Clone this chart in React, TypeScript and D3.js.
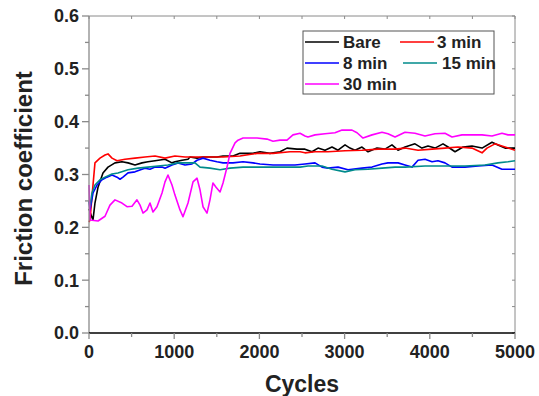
import React from "react";
import * as d3 from "d3";

const xTicks = [0, 1000, 2000, 3000, 4000, 5000];
const yTicks = [0.0, 0.1, 0.2, 0.3, 0.4, 0.5, 0.6];

const bare: [number, number][] = [[0,0.235],[20,0.225],[47,0.214],[70,0.246],[106,0.276],[164,0.303],[223,0.314],[305,0.322],[387,0.324],[458,0.322],[540,0.318],[622,0.322],[692,0.324],[775,0.326],[892,0.329],[974,0.322],[1009,0.324],[1092,0.327],[1162,0.329],[1185,0.333],[1268,0.331],[1338,0.333],[1420,0.333],[1502,0.333],[1573,0.335],[1690,0.335],[1772,0.340],[1854,0.340],[1925,0.340],[2007,0.343],[2124,0.340],[2242,0.343],[2324,0.350],[2441,0.348],[2535,0.348],[2617,0.343],[2688,0.350],[2770,0.346],[2852,0.352],[2923,0.346],[3005,0.356],[3063,0.350],[3122,0.346],[3204,0.352],[3275,0.343],[3380,0.350],[3474,0.348],[3556,0.356],[3627,0.346],[3709,0.352],[3826,0.358],[3908,0.350],[3979,0.354],[4061,0.350],[4155,0.358],[4214,0.352],[4296,0.343],[4390,0.352],[4495,0.354],[4613,0.350],[4730,0.361],[4800,0.356],[4883,0.350],[5000,0.350]];

const min3: [number, number][] = [[0,0.21],[12,0.214],[35,0.258],[70,0.322],[129,0.331],[188,0.337],[223,0.339],[270,0.331],[329,0.326],[423,0.329],[540,0.331],[657,0.333],[775,0.335],[892,0.331],[1009,0.335],[1127,0.333],[1244,0.333],[1303,0.333],[1420,0.333],[1573,0.333],[1772,0.335],[1972,0.340],[2160,0.340],[2359,0.343],[2477,0.343],[2535,0.341],[2653,0.343],[2805,0.343],[3005,0.345],[3204,0.346],[3392,0.348],[3592,0.348],[3709,0.350],[3862,0.346],[4026,0.348],[4178,0.350],[4331,0.352],[4495,0.350],[4613,0.341],[4671,0.350],[4765,0.358],[4883,0.352],[5000,0.346]];

const min8: [number, number][] = [[0,0.25],[12,0.233],[47,0.265],[94,0.280],[153,0.290],[211,0.295],[270,0.299],[329,0.295],[364,0.291],[399,0.295],[458,0.303],[540,0.305],[622,0.310],[657,0.312],[716,0.310],[775,0.314],[857,0.314],[892,0.312],[974,0.318],[1045,0.322],[1127,0.318],[1209,0.320],[1268,0.327],[1338,0.331],[1420,0.327],[1502,0.324],[1573,0.322],[1690,0.322],[1808,0.324],[1925,0.322],[2007,0.320],[2160,0.318],[2324,0.318],[2418,0.318],[2535,0.320],[2653,0.322],[2735,0.314],[2805,0.312],[2923,0.314],[3040,0.309],[3204,0.312],[3322,0.314],[3439,0.320],[3509,0.322],[3627,0.322],[3709,0.318],[3791,0.314],[3862,0.327],[3944,0.329],[4026,0.324],[4096,0.326],[4178,0.322],[4261,0.314],[4413,0.314],[4566,0.316],[4730,0.318],[4847,0.310],[5000,0.310]];

const min15: [number, number][] = [[0,0.25],[12,0.239],[35,0.265],[70,0.280],[129,0.290],[188,0.295],[270,0.301],[340,0.303],[458,0.309],[575,0.312],[692,0.314],[810,0.316],[927,0.318],[1045,0.322],[1162,0.322],[1244,0.322],[1303,0.314],[1420,0.312],[1538,0.309],[1655,0.312],[1808,0.314],[1972,0.314],[2124,0.314],[2277,0.314],[2477,0.314],[2570,0.316],[2735,0.316],[2852,0.310],[3005,0.305],[3122,0.309],[3275,0.310],[3439,0.312],[3592,0.314],[3709,0.314],[3944,0.316],[4178,0.316],[4413,0.316],[4648,0.318],[4800,0.322],[4918,0.324],[5000,0.326]];

const min30: [number, number][] = [[0,0.28],[8,0.24],[12,0.214],[106,0.212],[188,0.221],[246,0.242],[305,0.252],[387,0.246],[446,0.239],[505,0.240],[563,0.252],[599,0.242],[634,0.227],[681,0.233],[716,0.246],[751,0.229],[798,0.239],[857,0.265],[892,0.286],[927,0.299],[974,0.280],[1009,0.261],[1068,0.233],[1103,0.220],[1162,0.246],[1221,0.286],[1268,0.293],[1303,0.271],[1338,0.239],[1385,0.227],[1420,0.252],[1455,0.284],[1491,0.276],[1538,0.267],[1573,0.284],[1620,0.314],[1655,0.340],[1714,0.360],[1749,0.365],[1808,0.369],[1972,0.369],[2089,0.367],[2160,0.363],[2242,0.365],[2324,0.365],[2394,0.375],[2477,0.378],[2535,0.373],[2570,0.371],[2653,0.375],[2770,0.377],[2887,0.379],[2970,0.384],[3087,0.384],[3146,0.379],[3216,0.369],[3322,0.375],[3439,0.380],[3509,0.377],[3592,0.371],[3709,0.380],[3826,0.378],[3944,0.373],[4061,0.377],[4178,0.378],[4261,0.371],[4378,0.375],[4495,0.375],[4613,0.375],[4730,0.373],[4847,0.378],[4918,0.375],[5000,0.375]];

const seriesNames = ["Bare", "3 min", "8 min", "15 min", "30 min"];
const seriesData = [bare, min3, min8, min15, min30];
const seriesColors = ["#000000", "#ff0000", "#0000ff", "#008b8b", "#ff00ff"];

const W = 539, H = 396;
const M = { left: 89, right: 24, top: 16, bottom: 63 };
const FONT = "'Liberation Sans', Arial, sans-serif";

export default function App() {
  const x = d3.scaleLinear().domain([0, 5000]).range([M.left, W - M.right]);
  const y = d3.scaleLinear().domain([0, 0.6]).range([H - M.bottom, M.top]);
  const line = d3.line<[number, number]>().x(d => x(d[0])).y(d => y(d[1]));
  const x0 = x(0), x1 = x(5000), y0 = y(0), y1 = y(0.6);
  const xMinor = d3.range(500, 5000, 1000);
  const yMinor = d3.range(0.05, 0.6, 0.1);
  const axisGray = "#8a8a8a";

  const legendRows = [
    [{ i: 0, lx: 305, tx: 343 }, { i: 1, lx: 400, tx: 437 }],
    [{ i: 2, lx: 305, tx: 343 }, { i: 3, lx: 403, tx: 442 }],
    [{ i: 4, lx: 305, tx: 343 }],
  ];
  const rowY = [42, 63, 84];

  return (
    <svg width={W} height={H} style={{ position: "absolute", left: 0, top: 0, background: "#fff" }} fontFamily={FONT}>
      <rect x={0} y={0} width={W} height={H} fill="#fff" />
      {/* frame */}
      <line x1={x0} x2={x1} y1={y1} y2={y1} stroke={axisGray} strokeWidth={1} />
      <line x1={x1} x2={x1} y1={y1} y2={y0} stroke={axisGray} strokeWidth={1} />
      {/* top/right inward ticks */}
      {[...xTicks, ...xMinor].map(t => (
        <line key={"tt" + t} x1={x(t)} x2={x(t)} y1={y1} y2={y1 + 3} stroke={axisGray} />
      ))}
      {[...yTicks, ...yMinor].map(t => (
        <line key={"rt" + t} x1={x1} x2={x1 - 3} y1={y(t)} y2={y(t)} stroke={axisGray} />
      ))}
      {/* series */}
      {seriesData.map((d, i) => (
        <path key={seriesNames[i]} d={line(d) || ""} fill="none" stroke={seriesColors[i]} strokeWidth={1.6} strokeLinejoin="round" />
      ))}
      {/* left axis */}
      <line x1={x0} x2={x0} y1={y1} y2={y0} stroke={axisGray} strokeWidth={1.3} />
      {yTicks.map(t => (
        <g key={"y" + t}>
          <line x1={x0 - 7} x2={x0} y1={y(t)} y2={y(t)} stroke={axisGray} strokeWidth={1.3} />
          <text x={79} y={y(t)} dy="0.36em" textAnchor="end" fontSize={18} fontWeight="bold" fill="#222">{t.toFixed(1)}</text>
        </g>
      ))}
      {yMinor.map(t => (
        <line key={"ym" + t} x1={x0 - 4} x2={x0} y1={y(t)} y2={y(t)} stroke={axisGray} strokeWidth={1.3} />
      ))}
      {/* bottom axis */}
      <line x1={x0} x2={x1} y1={y0} y2={y0} stroke="#000" strokeWidth={1.3} />
      {xTicks.map(t => (
        <g key={"x" + t}>
          <line x1={x(t)} x2={x(t)} y1={y0} y2={y0 + 6} stroke={axisGray} strokeWidth={1.3} />
          <text x={x(t)} y={358} textAnchor="middle" fontSize={18} fontWeight="bold" fill="#222">{t}</text>
        </g>
      ))}
      {xMinor.map(t => (
        <line key={"xm" + t} x1={x(t)} x2={x(t)} y1={y0} y2={y0 + 4} stroke={axisGray} strokeWidth={1.3} />
      ))}
      {/* axis titles */}
      <text x={(x0 + x1) / 2} y={392} textAnchor="middle" fontSize={23} fontWeight="bold" fill="#222">Cycles</text>
      <text transform={`translate(32,${(y0 + y1) / 2 + 4}) rotate(-90)`} textAnchor="middle" fontSize={24} fontWeight="bold" fill="#222">Friction coefficient</text>
      {/* legend */}
      <rect x={303} y={31} width={191} height={63} fill="#fff" stroke="#555" strokeWidth={1} />
      {legendRows.map((row, r) =>
        row.map(e => (
          <g key={"lg" + e.i}>
            <line x1={e.lx} x2={e.lx + 34} y1={rowY[r]} y2={rowY[r]} stroke={seriesColors[e.i]} strokeWidth={1.6} />
            <text x={e.tx} y={rowY[r]} dy="0.36em" fontSize={17} fontWeight="bold" fill="#222">{seriesNames[e.i]}</text>
          </g>
        ))
      )}
    </svg>
  );
}
